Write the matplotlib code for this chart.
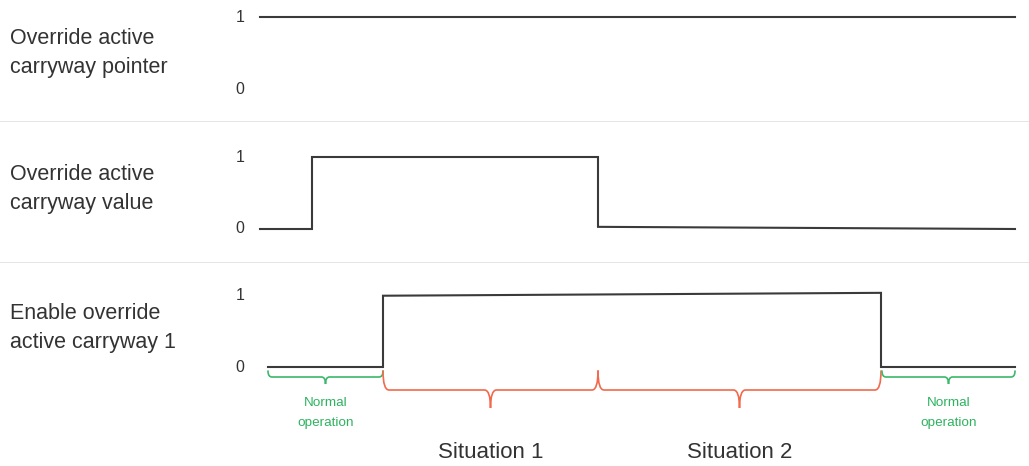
import matplotlib.pyplot as plt
from matplotlib.path import Path
from matplotlib.patches import PathPatch

plt.rcParams['font.family'] = ['Liberation Sans', 'DejaVu Sans']

# signal rows: label, time breakpoints, logic levels
row_labels = ["Override active\ncarryway pointer",
              "Override active\ncarryway value",
              "Enable override\nactive carryway 1"]
t_pointer = [260, 1015]
v_pointer = [1, 1]
t_value = [260, 312, 312, 598, 598, 1015]
v_value = [0, 0, 1, 1, 0.03, 0]
t_enable = [268, 383, 383, 881, 881, 1015]
v_enable = [0, 0, 0.99, 1.03, 0, 0]
signals = [(t_pointer, v_pointer), (t_value, v_value), (t_enable, v_enable)]

# phases under the last row
phase_start = [268, 383, 598, 882]
phase_end = [383, 598, 881, 1015]
phase_kind = ["normal", "situation", "situation", "normal"]
phase_text = ["Normal\noperation", "Situation 1", "Situation 2", "Normal\noperation"]

W, H = 1029, 466
fig = plt.figure(figsize=(W / 100, H / 100), dpi=100)

# pixel layout of each band: (top, bottom, y of level 1, y of level 0)
bands = [(0, 122, 17, 89), (122, 263, 157, 229), (263, 466, 295, 367)]
label_y = [53, 189, 328]
dark = '#3a3a3a'
text_col = '#333333'

axes = []
for i, (top, bot, y1, y0) in enumerate(bands):
    ax = fig.add_axes([0, 1 - bot / H, 1, (bot - top) / H])
    px = y0 - y1  # pixels per unit
    ax.set_xlim(0, W)
    ax.set_ylim(-(bot - y0) / px, 1 + (y1 - top) / px)
    for s in ['top', 'left', 'right']:
        ax.spines[s].set_visible(False)
    if i < 2:
        ax.spines['bottom'].set_color('#7f7f7f')
        ax.spines['bottom'].set_linewidth(1.0)
    else:
        ax.spines['bottom'].set_visible(False)
    ax.set_xticks([])
    ax.set_yticks([])
    t, v = signals[i]
    ax.plot(t, v, color=dark, lw=1.5, solid_joinstyle='miter')
    ax.text(240, 1, "1", ha='center', va='center', fontsize=11.5, color=text_col)
    ax.text(240, 0, "0", ha='center', va='center', fontsize=11.5, color=text_col)
    yl = 1 - (label_y[i] - y1) / px
    ax.text(10, yl, row_labels[i], ha='left', va='center', fontsize=15.5,
            color=text_col, linespacing=1.5)
    axes.append(ax)


def brace(ax, x0, x1, ytop, yline, ytip, r, color):
    xm = (x0 + x1) / 2
    verts = [(x0, ytop), (x0, yline), (x0 + r, yline),
             (xm - r, yline), (xm, yline), (xm, ytip),
             (xm, yline), (xm + r, yline),
             (x1 - r, yline), (x1, yline), (x1, ytop)]
    codes = [Path.MOVETO, Path.CURVE3, Path.CURVE3,
             Path.LINETO, Path.CURVE3, Path.CURVE3,
             Path.CURVE3, Path.CURVE3,
             Path.LINETO, Path.CURVE3, Path.CURVE3]
    ax.add_patch(PathPatch(Path(verts, codes), fill=False, edgecolor=color,
                           lw=1.2, capstyle='round'))


ax = axes[2]
px = 72.0
green = '#3cb86a'
red = '#f2694c'
for x0, x1, kind, txt in zip(phase_start, phase_end, phase_kind, phase_text):
    xm = (x0 + x1) / 2
    if kind == "normal":
        brace(ax, x0, x1, -(371 - 367) / px, -(377 - 367) / px,
              -(384 - 367) / px, 4, green)
        ax.text(xm, -(413 - 367) / px, txt, ha='center', va='center',
                fontsize=9.7, color='#2db35f', linespacing=1.8)
    else:
        brace(ax, x0, x1, -(371 - 367) / px, -(390 - 367) / px,
              -(408 - 367) / px, 6, red)
        ax.text(xm, -(453 - 367) / px, txt, ha='center', va='center',
                fontsize=16, color=text_col)

fig.savefig("out.png", dpi=100)
